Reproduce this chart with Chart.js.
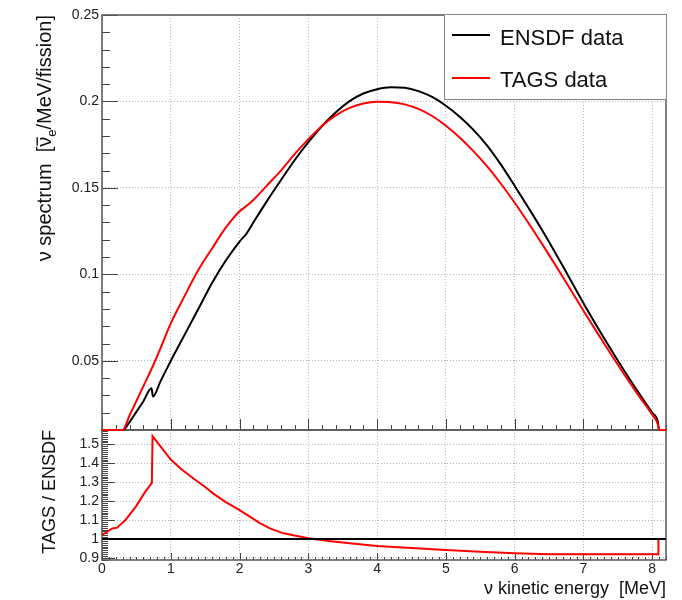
<!DOCTYPE html>
<html>
<head>
<meta charset="utf-8">
<title>Antineutrino spectrum: TAGS vs ENSDF</title>
<script src="https://cdn.jsdelivr.net/npm/chart.js@4.4.1/dist/chart.umd.min.js"></script>
<style>
  html, body { margin: 0; padding: 0; background: #fff; }
  #wrap { position: relative; width: 682px; height: 600px; }
  canvas { position: absolute; left: 0; }
  #spectrum { top: 0; z-index: 2; }
  #ratio { top: 428px; z-index: 1; }
</style>
</head>
<body>
<div id="wrap">
  <canvas id="spectrum" width="682" height="432"></canvas>
  <canvas id="ratio" width="682" height="172"></canvas>
</div>
<script>
// Energy grid [MeV] shared by both spectra
const energy = [0, 0.30, 0.40, 0.50, 0.60, 0.72, 0.74, 0.85,
  1.0, 1.2, 1.4, 1.6, 1.8, 2.0, 2.1, 2.2, 2.4, 2.6, 2.8,
  3.0, 3.2, 3.4, 3.6, 3.8, 4.0, 4.2, 4.4, 4.6, 4.8,
  5.0, 5.2, 5.4, 5.6, 5.8, 6.0, 6.2, 6.4, 6.6, 6.8,
  7.0, 7.2, 7.4, 7.6, 7.8, 8.0, 8.08, 8.1, 8.2];

// antineutrinos / MeV / fission (values under the axis floor sit on 0.01)
const ensdf = [0.01, 0.01, 0.0146, 0.0205, 0.0265, 0.0342, 0.0294, 0.0381,
  0.0500, 0.0650, 0.0800, 0.0950, 0.1080, 0.1190, 0.1235, 0.1300, 0.1425, 0.1544, 0.1660,
  0.1765, 0.1858, 0.1938, 0.2002, 0.2046, 0.2071, 0.2082, 0.2079, 0.2060, 0.2026,
  0.1975, 0.1912, 0.1836, 0.1745, 0.1635, 0.1512, 0.1385, 0.1255, 0.1118, 0.0976,
  0.0833, 0.0697, 0.0565, 0.0438, 0.0316, 0.0200, 0.0150, 0.01, 0.01];

const tags = [0.01, 0.01, 0.0184, 0.0268, 0.0352, 0.0453, 0.0470, 0.0572,
  0.0717, 0.0874, 0.1025, 0.1150, 0.1270, 0.1365, 0.1395, 0.1430, 0.1515, 0.1600, 0.1695,
  0.1782, 0.1860, 0.1920, 0.1963, 0.1988, 0.1998, 0.1996, 0.1983, 0.1957, 0.1916,
  0.1860, 0.1792, 0.1713, 0.1624, 0.1524, 0.1414, 0.1297, 0.1175, 0.1049, 0.0920,
  0.0790, 0.0663, 0.0538, 0.0417, 0.0300, 0.0188, 0.0135, 0.01, 0.01];

// TAGS / ENSDF ratio
const ratioEnergy = [0, 0.15, 0.22, 0.34, 0.49, 0.63, 0.725, 0.735, 0.85,
  1.0, 1.15, 1.33, 1.5, 1.62, 1.8, 2.0, 2.15, 2.3, 2.45, 2.64, 2.8,
  3.0, 3.3, 3.6, 4.0, 4.5, 5.0, 5.5, 6.0, 6.5, 7.0, 7.5, 8.0, 8.09, 8.09, 8.2];
const ratio = [1.021, 1.056, 1.06, 1.10, 1.17, 1.25, 1.297, 1.544, 1.49,
  1.42, 1.37, 1.32, 1.275, 1.24, 1.195, 1.153, 1.118, 1.083, 1.055, 1.03, 1.018,
  1.004, 0.99, 0.978, 0.963, 0.952, 0.942, 0.933, 0.925, 0.919, 0.919, 0.919, 0.919, 0.919, 1.0, 1.0];
const unityEnergy = [0, 8.2];
const unity = [1, 1];

// Tick labels
const xTicks = [0, 1, 2, 3, 4, 5, 6, 7, 8];
const spectrumTicks = [0.05, 0.1, 0.15, 0.2, 0.25];
const ratioTicks = [0.9, 1, 1.1, 1.2, 1.3, 1.4, 1.5];

const FONT = "'Liberation Sans', Arial, Helvetica, sans-serif";
const GRID = '#b4b4b4';
const TEXT = '#222';

const points = (xs, ys) => xs.map((x, i) => ({ x: x, y: ys[i] }));
const fixTicks = list => scale => { scale.ticks = list.map(v => ({ value: v })); };
const fmt = v => String(+(+v).toFixed(2));
// pin axis sizes so both pads share the same frame
const pinSize = (w, h) => s => {
  if (w !== null) s.width = w;
  if (h !== null) s.height = h;
  s.paddingTop = 0; s.paddingBottom = 0;
  s.paddingLeft = 0; s.paddingRight = 0;
};

// ROOT-like frame with ticks drawn inside the pad
const rootAxes = {
  id: 'rootAxes',
  beforeDatasetsDraw(chart, args, o) {
    const { ctx, chartArea: a, scales: { x, y } } = chart;
    ctx.save();
    ctx.strokeStyle = '#444';
    ctx.lineWidth = 1;
    ctx.beginPath();
    const nx = Math.round(x.max / o.xStep);
    for (let i = 0; i <= nx; i++) {
      const px = Math.round(x.getPixelForValue(i * o.xStep)) + 0.5;
      const len = i % o.xEvery === 0 ? o.xMajor : o.xMinor;
      ctx.moveTo(px, a.bottom);
      ctx.lineTo(px, a.bottom - len);
    }
    const i0 = Math.ceil(y.min / o.yStep - 1e-6);
    const i1 = Math.floor(y.max / o.yStep + 1e-6);
    for (let i = i0; i <= i1; i++) {
      const py = Math.round(y.getPixelForValue(i * o.yStep)) + 0.5;
      const len = i % o.yEvery === 0 ? o.yMajor : o.yMinor;
      ctx.moveTo(a.left, py);
      ctx.lineTo(a.left + len, py);
    }
    ctx.stroke();
    ctx.strokeStyle = '#555';
    ctx.lineWidth = 1.5;
    ctx.strokeRect(a.left, a.top, a.right - a.left, a.bottom - a.top);
    ctx.restore();
  }
};

// Boxed legend in the top right corner
const boxLegend = {
  id: 'boxLegend',
  afterDraw(chart, args, o) {
    const { ctx } = chart;
    ctx.save();
    ctx.fillStyle = '#fff';
    ctx.fillRect(o.left, o.top, o.width, o.height);
    ctx.strokeStyle = '#888';
    ctx.lineWidth = 1;
    ctx.strokeRect(o.left + 0.5, o.top + 0.5, o.width, o.height);
    ctx.font = o.font;
    ctx.fillStyle = '#111';
    ctx.textBaseline = 'alphabetic';
    chart.data.datasets.forEach((ds, i) => {
      const ly = o.top + o.rowLine[i];
      ctx.strokeStyle = ds.borderColor;
      ctx.lineWidth = 2;
      ctx.beginPath();
      ctx.moveTo(o.left + 8, ly);
      ctx.lineTo(o.left + 46, ly);
      ctx.stroke();
      ctx.fillText(ds.label, o.left + 56, o.top + o.rowBase[i]);
    });
    ctx.restore();
  }
};

// Rotated y title with overlined nu and subscript e
const spectrumTitle = {
  id: 'spectrumTitle',
  afterDraw(chart, args, o) {
    const { ctx } = chart;
    const big = '20px ' + FONT;
    const small = '13px ' + FONT;
    const parts = [
      { t: 'ν spectrum  [', f: big, dy: 0 },
      { t: 'ν', f: big, dy: 0, bar: true },
      { t: 'e', f: small, dy: 5 },
      { t: '/MeV/fission]', f: big, dy: 0 }
    ];
    ctx.save();
    let total = 0;
    parts.forEach(p => { ctx.font = p.f; p.w = ctx.measureText(p.t).width; total += p.w; });
    ctx.translate(o.x, o.y);
    ctx.rotate(-Math.PI / 2);
    ctx.fillStyle = '#111';
    ctx.textBaseline = 'alphabetic';
    let cx = -total;
    parts.forEach(p => {
      ctx.font = p.f;
      ctx.fillText(p.t, cx, p.dy);
      if (p.bar) ctx.fillRect(cx + 1, -14.5, p.w - 1.5, 1.4);
      cx += p.w;
    });
    ctx.restore();
  }
};

const tickFont = { family: FONT, size: 14 };
const gridOpts = { color: GRID, drawTicks: false };
const borderOpts = { display: false, dash: [1, 2] };

// Upper pad: spectra
new Chart(document.getElementById('spectrum'), {
  type: 'scatter',
  data: {
    datasets: [
      { label: 'ENSDF data', data: points(energy, ensdf), showLine: true, borderColor: '#000000',
        borderWidth: 2, pointRadius: 0, cubicInterpolationMode: 'monotone', clip: 2, order: 1 },
      { label: 'TAGS data', data: points(energy, tags), showLine: true, borderColor: '#ff0000',
        borderWidth: 2, pointRadius: 0, cubicInterpolationMode: 'monotone', clip: 2, order: 0 }
    ]
  },
  options: {
    animation: false,
    responsive: false,
    devicePixelRatio: 1,
    layout: { padding: { top: 15, right: 16, bottom: 2, left: 0 } },
    plugins: {
      legend: { display: false },
      tooltip: { enabled: false },
      rootAxes: { xStep: 0.2, xEvery: 5, xMajor: 11, xMinor: 5, yStep: 0.01, yEvery: 5, yMajor: 16, yMinor: 8 },
      boxLegend: { left: 444, top: 14, width: 222, height: 85, font: '22px ' + FONT,
        rowLine: [21, 64], rowBase: [31, 73] },
      spectrumTitle: { x: 51, y: 15 }
    },
    scales: {
      x: {
        type: 'linear', min: 0, max: 8.2,
        afterBuildTicks: fixTicks(xTicks),
        afterFit: pinSize(null, 0),
        ticks: { display: false },
        grid: gridOpts, border: borderOpts
      },
      y: {
        type: 'linear', min: 0.01, max: 0.25,
        afterBuildTicks: fixTicks(spectrumTicks),
        afterFit: pinSize(102, null),
        ticks: { font: tickFont, color: TEXT, padding: 3, callback: fmt },
        grid: gridOpts, border: borderOpts
      }
    }
  },
  plugins: [rootAxes, boxLegend, spectrumTitle]
});

// Lower pad: ratio
new Chart(document.getElementById('ratio'), {
  type: 'scatter',
  data: {
    datasets: [
      { label: 'TAGS / ENSDF', data: points(ratioEnergy, ratio), showLine: true, borderColor: '#ff0000',
        borderWidth: 2, pointRadius: 0, tension: 0, clip: 2, order: 1 },
      { label: 'unity', data: points(unityEnergy, unity), showLine: true, borderColor: '#000000',
        borderWidth: 2, pointRadius: 0, tension: 0, order: 0 }
    ]
  },
  options: {
    animation: false,
    responsive: false,
    devicePixelRatio: 1,
    layout: { padding: { top: 2, right: 16, bottom: 0, left: 0 } },
    plugins: {
      legend: { display: false },
      tooltip: { enabled: false },
      rootAxes: { xStep: 0.1, xEvery: 10, xMajor: 7, xMinor: 3, yStep: 0.01, yEvery: 10, yMajor: 13, yMinor: 6 }
    },
    scales: {
      x: {
        type: 'linear', min: 0, max: 8.2,
        afterBuildTicks: fixTicks(xTicks),
        afterFit: pinSize(null, 40),
        ticks: { font: tickFont, color: TEXT, padding: 1, autoSkip: false, maxRotation: 0, callback: fmt },
        grid: gridOpts, border: borderOpts,
        title: { display: true, text: 'ν kinetic energy  [MeV]', align: 'end', color: '#111',
          font: { family: FONT, size: 18 }, padding: { top: 0, bottom: 0 } }
      },
      y: {
        type: 'linear', min: 0.889, max: 1.576,
        afterBuildTicks: fixTicks(ratioTicks),
        afterFit: pinSize(102, null),
        ticks: { font: tickFont, color: TEXT, padding: 3, callback: fmt },
        grid: gridOpts, border: borderOpts,
        title: { display: true, text: 'TAGS / ENSDF', align: 'end', color: '#111',
          font: { family: FONT, size: 18 }, padding: { top: 39, bottom: 0 } }
      }
    }
  },
  plugins: [rootAxes]
});
</script>
</body>
</html>
